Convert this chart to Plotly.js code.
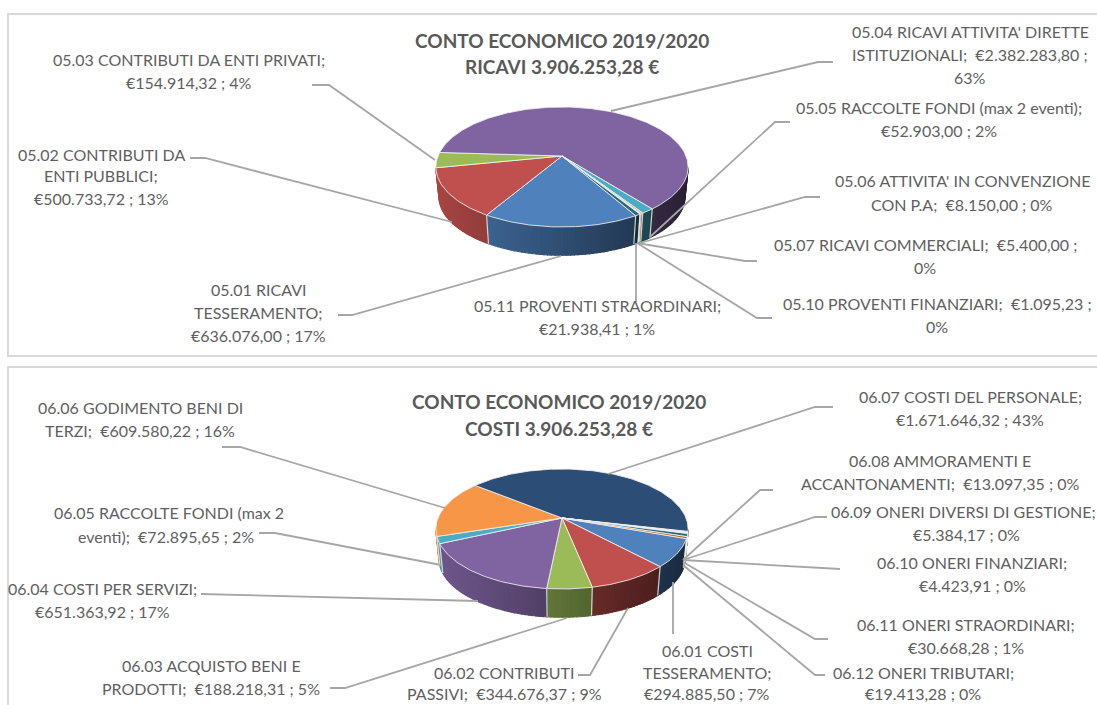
<!DOCTYPE html>
<html>
<head>
<meta charset="utf-8">
<script src="https://cdn.plot.ly/plotly-3.0.1.min.js"></script>
<style>html,body{margin:0;padding:0;background:#fff;overflow:hidden}#chart{width:1097px;height:705px}</style>
</head>
<body>
<div id="chart"></div>
<script>
// ---------- data ----------
const ricaviCodes  = ["05.01","05.02","05.03","05.04","05.05","05.06","05.07","05.10","05.11"];
const ricaviValues = [636076.00,500733.72,154914.32,2382283.80,52903.00,8150.00,5400.00,1095.23,21938.41];
const ricaviColors = ["#4F81BD","#C0504D","#9BBB59","#8064A2","#4BACC6","#F79646","#2C4D75","#4D3B62","#276A7C"];
const costiCodes   = ["06.01","06.02","06.03","06.04","06.05","06.06","06.07","06.08","06.09","06.10","06.11","06.12"];
const costiValues  = [294885.50,344676.37,188218.31,651363.92,72895.65,609580.22,1671646.32,13097.35,5384.17,4423.91,30668.28,19413.28];
const costiColors  = ["#4F81BD","#C0504D","#9BBB59","#8064A2","#4BACC6","#F79646","#2C4D75","#772C2A","#5F7530","#4D3B62","#276A7C","#B65708"];

const titles = [
  ["CONTO ECONOMICO 2019/2020",562,41],["RICAVI 3.906.253,28 €",562,67],
  ["CONTO ECONOMICO 2019/2020",559,402],["COSTI 3.906.253,28 €",559,429]
];
const labelLines = [
  ["05.04 RICAVI ATTIVITA' DIRETTE",970,32],["ISTITUZIONALI;  €2.382.283,80 ;",970,55],["63%",970,78],
  ["05.05 RACCOLTE FONDI (max 2 eventi);",939,108],["€52.903,00 ; 2%",939,131],
  ["05.06 ATTIVITA' IN CONVENZIONE",962,181],["CON P.A;  €8.150,00 ; 0%",962,205],
  ["05.07 RICAVI COMMERCIALI;  €5.400,00 ;",925,245],["0%",925,268],
  ["05.10 PROVENTI FINANZIARI;  €1.095,23 ;",937,304],["0%",937,327],
  ["05.11 PROVENTI STRAORDINARI;",597,306],["€21.938,41 ; 1%",597,329],
  ["05.01 RICAVI",258,290],["TESSERAMENTO;",258,313],["€636.076,00 ; 17%",258,336],
  ["05.02 CONTRIBUTI DA",101,155],["ENTI PUBBLICI;",101,176],["€500.733,72 ; 13%",101,199],
  ["05.03 CONTRIBUTI DA ENTI PRIVATI;",189,60],["€154.914,32 ; 4%",189,83],
  ["06.07 COSTI DEL PERSONALE;",970,397],["€1.671.646,32 ; 43%",970,420],
  ["06.08 AMMORAMENTI E",940,461],["ACCANTONAMENTI;  €13.097,35 ; 0%",940,484],
  ["06.09 ONERI DIVERSI DI GESTIONE;",963,512],["€5.384,17 ; 0%",966,535],
  ["06.10 ONERI FINANZIARI;",972,563],["€4.423,91 ; 0%",972,586],
  ["06.11 ONERI STRAORDINARI;",966,625],["€30.668,28 ; 1%",966,648],
  ["06.12 ONERI TRIBUTARI;",923,673],["€19.413,28 ; 0%",923,694],
  ["06.01 COSTI",707,651],["TESSERAMENTO;",707,673],["€294.885,50 ; 7%",707,694],
  ["06.02 CONTRIBUTI",504,673],["PASSIVI;  €344.676,37 ; 9%",504,694],
  ["06.03 ACQUISTO BENI E",211,666],["PRODOTTI;  €188.218,31 ; 5%",211,689],
  ["06.04 COSTI PER SERVIZI;",102,589],["€651.363,92 ; 17%",102,612],
  ["06.05 RACCOLTE FONDI (max 2",169,513],["eventi);  €72.895,65 ; 2%",166,537],
  ["06.06 GODIMENTO BENI DI",140,408],["TERZI;  €609.580,22 ; 16%",140,431]
];
const leaders = [
  [[611,111],[818,62],[833,62]],
  [[650,237],[775,122],[790,122]],
  [[640,243],[805,197],[820,197]],
  [[637,243],[745,261],[757,261]],
  [[637,243],[757,318],[772,318]],
  [[636,243],[636,302]],
  [[561,256],[352,315],[338,315]],
  [[452,222],[205,158],[190,158]],
  [[435,160],[329,85],[312,85]],
  [[608,474],[815,407],[833,407]],
  [[683,560],[760,490],[773,490]],
  [[683,560],[815,517],[827,517]],
  [[683,560],[840,569]],
  [[683,562],[815,639],[828,639]],
  [[683,565],[815,675],[825,675]],
  [[673,582],[673,634]],
  [[628,608],[590,675],[578,675]],
  [[567,618],[345,688],[330,688]],
  [[478,601],[215,594],[201,594]],
  [[441,565],[275,533],[259,533]],
  [[445,508],[240,447],[222,447]]
];

// ---------- perspective pie geometry ----------
const A = 124, B = 58, K = 0.183, DEPTH = 30, SHRINK = 0.975;
function project(deg) {
  const r = deg * Math.PI / 180, u = Math.sin(r), v = Math.cos(r), w = 1 + K * v;
  return [A * u / w, B * v / w, v];
}
function shade(hex, f) {
  const n = parseInt(hex.slice(1), 16);
  return "rgb(" + [(n >> 16) & 255, (n >> 8) & 255, n & 255].map(c => Math.round(c * f)).join(",") + ")";
}
const traces = [];
function poly(xs, ys, fill, lineColor, lineWidth) {
  traces.push({type:"scatter",mode:"lines",x:xs,y:ys,fill:"toself",fillcolor:fill,
    line:{color:lineColor,width:lineWidth},hoverinfo:"skip",showlegend:false});
}
function drawPie(values, colors, cx, cy, start) {
  const total = values.reduce((a, b) => a + b, 0);
  let a = start;
  const spans = values.map((val, i) => { const s = [a, a + val / total * 360, colors[i]]; a = s[1]; return s; });
  // side wall
  spans.forEach(([a0, a1, col]) => {
    const step = 1.5, n = Math.max(1, Math.ceil((a1 - a0) / step));
    for (let k = 0; k < n; k++) {
      const d0 = a0 + (a1 - a0) * k / n, d1 = a0 + (a1 - a0) * (k + 1) / n;
      const p0 = project(d0), p1 = project(d1);
      if (p0[2] > -0.2 && p1[2] > -0.2) continue;
      const t = (p0[0] + p1[0]) / 2 / 127, c = shade(col, Math.max(0.3, 0.6 - 0.27 * t));
      poly([cx + p0[0], cx + p1[0], cx + p1[0] * SHRINK, cx + p0[0] * SHRINK, cx + p0[0]],
           [cy - p0[1], cy - p1[1], cy - p1[1] * SHRINK + DEPTH, cy - p0[1] * SHRINK + DEPTH, cy - p0[1]],
           c, c, 1.2);
    }
  });
  // side edges between slices
  spans.forEach(([a0]) => {
    const p = project(a0);
    if (p[2] > -0.2) return;
    traces.push({type:"scatter",mode:"lines",x:[cx + p[0], cx + p[0] * SHRINK],y:[cy - p[1], cy - p[1] * SHRINK + DEPTH],
      line:{color:"rgba(235,235,235,0.85)",width:1.2},hoverinfo:"skip",showlegend:false});
  });
  // top surface
  spans.forEach(([a0, a1, col]) => {
    const xs = [cx], ys = [cy], n = Math.max(2, Math.ceil(a1 - a0));
    for (let k = 0; k <= n; k++) {
      const p = project(a0 + (a1 - a0) * k / n);
      xs.push(cx + p[0]); ys.push(cy - p[1]);
    }
    xs.push(cx); ys.push(cy);
    poly(xs, ys, col, "rgba(240,240,240,0.85)", 1);
  });
}
drawPie(ricaviValues, ricaviColors, 562, 156, 150);
drawPie(costiValues, costiColors, 562, 518, 109.5);

leaders.forEach(pts => traces.push({type:"scatter",mode:"lines",x:pts.map(p => p[0]),y:pts.map(p => p[1]),
  line:{color:"#a6a6a6",width:1.8},hoverinfo:"skip",showlegend:false}));

const FONT = "Lato, Carlito, Calibri, sans-serif";
const annotations = [];
labelLines.forEach(([t, x, y]) => annotations.push({text:t,x:x,y:y,yshift:1,xref:"x",yref:"y",showarrow:false,
  xanchor:"center",yanchor:"middle",font:{family:FONT,size:16,color:"#5f5f5f"}}));
titles.forEach(([t, x, y]) => annotations.push({text:"<b>" + t + "</b>",x:x,y:y,yshift:1,xref:"x",yref:"y",showarrow:false,
  xanchor:"center",yanchor:"middle",font:{family:FONT,size:19,color:"#595959"}}));

const frame = {color:"#d9d9d9",width:2};
const shapes = [
  {type:"path",path:"M 1100 14 L 8 14 L 8 356 L 1100 356",xref:"x",yref:"y",line:frame,layer:"below"},
  {type:"path",path:"M 1100 367 L 8 367 L 8 710",xref:"x",yref:"y",line:frame,layer:"below"}
];

Plotly.newPlot("chart", traces, {
  width:1097,height:705,margin:{l:0,r:0,t:0,b:0},paper_bgcolor:"#fff",plot_bgcolor:"#fff",showlegend:false,
  xaxis:{range:[0,1097],visible:false,fixedrange:true},
  yaxis:{range:[705,0],visible:false,fixedrange:true},
  annotations:annotations,shapes:shapes
},{displayModeBar:false,staticPlot:true});
</script>
</body>
</html>
